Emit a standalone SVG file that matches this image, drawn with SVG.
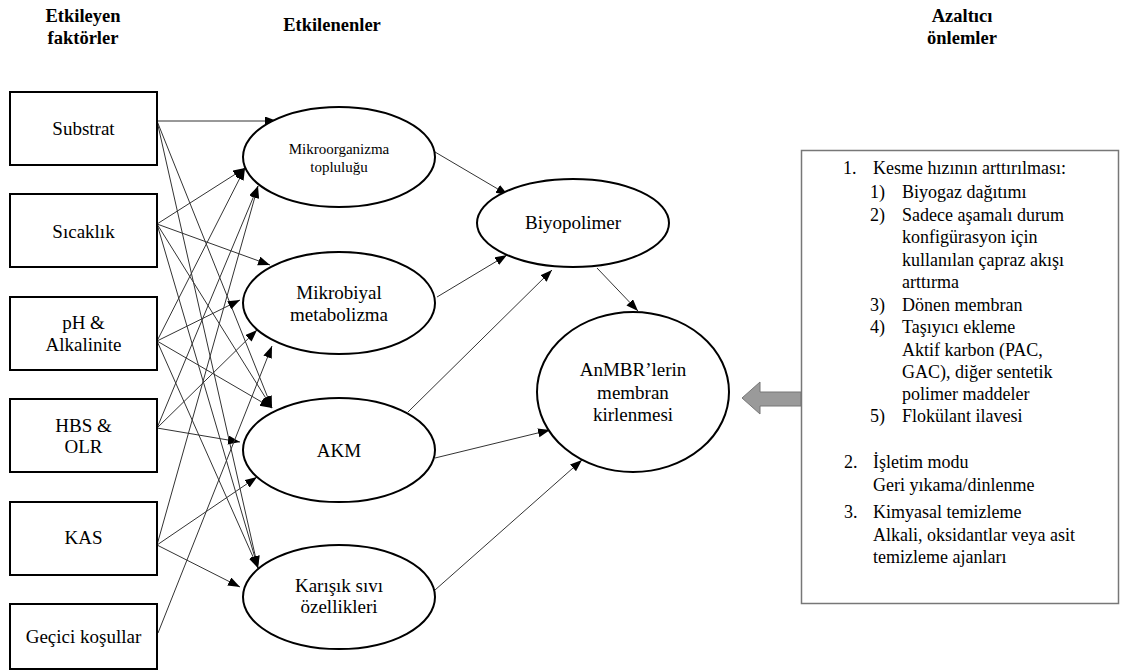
<svg xmlns="http://www.w3.org/2000/svg" width="1121" height="671" viewBox="0 0 1121 671" font-family="Liberation Serif, Times New Roman, serif">
<style>
text{font-family:'Liberation Serif','Times New Roman',Tinos,serif !important}
</style>
<defs>
<marker id="ah" markerUnits="userSpaceOnUse" markerWidth="12" markerHeight="10" refX="12" refY="4.5" orient="auto">
<path d="M0,0 L12,4.5 L0,9 z" fill="#000"/>
</marker>
</defs>
<rect x="0" y="0" width="1121" height="671" fill="#fff"/>

<g id="headers" font-size="18.5" font-weight="bold" text-anchor="middle" fill="#000">
<text x="83" y="22">Etkileyen</text>
<text x="83" y="44">faktörler</text>
<text x="332" y="31">Etkilenenler</text>
<text x="962" y="22">Azaltıcı</text>
<text x="962" y="44">önlemler</text>
</g>

<g id="connectors" stroke="#333" stroke-width="1" fill="none" marker-end="url(#ah)">
<line x1="157" y1="121" x2="277" y2="121"/>
<line x1="157" y1="121" x2="272" y2="408"/>
<line x1="157" y1="121" x2="258" y2="568"/>
<line x1="157" y1="224" x2="245" y2="168"/>
<line x1="157" y1="224" x2="270" y2="265"/>
<line x1="157" y1="224" x2="272" y2="408"/>
<line x1="157" y1="224" x2="258" y2="568"/>
<line x1="157" y1="341" x2="245" y2="168"/>
<line x1="157" y1="341" x2="240" y2="300"/>
<line x1="157" y1="341" x2="272" y2="408"/>
<line x1="157" y1="341" x2="258" y2="568"/>
<line x1="157" y1="428" x2="258" y2="186"/>
<line x1="157" y1="428" x2="257" y2="330"/>
<line x1="157" y1="428" x2="240" y2="442"/>
<line x1="157" y1="545" x2="258" y2="186"/>
<line x1="157" y1="545" x2="257" y2="477"/>
<line x1="157" y1="545" x2="240" y2="587"/>
<line x1="158" y1="633" x2="272" y2="346"/>
<line x1="435" y1="152" x2="508" y2="195"/>
<line x1="437" y1="297" x2="507" y2="255"/>
<line x1="408" y1="412" x2="552" y2="270"/>
<line x1="597" y1="268" x2="638" y2="311"/>
<line x1="435" y1="458" x2="550" y2="430"/>
<line x1="435" y1="590" x2="582" y2="460"/>
</g>

<g id="factors" stroke="#000" stroke-width="2" fill="#fff">
<g id="n-substrat"><rect x="10" y="92" width="147" height="73"/></g>
<g id="n-sicaklik"><rect x="10" y="194" width="147" height="73"/></g>
<g id="n-ph"><rect x="10" y="297" width="147" height="73"/></g>
<g id="n-hbs"><rect x="10" y="399" width="147" height="73"/></g>
<g id="n-kas"><rect x="10" y="502" width="147" height="73"/></g>
<g id="n-gecici"><rect x="10" y="604" width="147" height="65"/></g>
</g>
<g id="factor-labels" font-size="19" text-anchor="middle" fill="#000">
<text x="83.5" y="135">Substrat</text>
<text x="83.5" y="238">Sıcaklık</text>
<text x="83.5" y="329">pH &amp;</text>
<text x="83.5" y="351">Alkalinite</text>
<text x="83.5" y="432">HBS &amp;</text>
<text x="83.5" y="453">OLR</text>
<text x="83.5" y="544">KAS</text>
<text x="83.5" y="643">Geçici koşullar</text>
</g>

<g id="effects" stroke="#000" stroke-width="2" fill="#fff">
<g id="n-mikroorganizma"><ellipse cx="339" cy="157" rx="96" ry="50"/></g>
<g id="n-mikrobiyal"><ellipse cx="339" cy="303" rx="96" ry="51"/></g>
<g id="n-akm"><ellipse cx="339" cy="450" rx="96" ry="52"/></g>
<g id="n-karisik"><ellipse cx="339" cy="597" rx="96" ry="52"/></g>
<g id="n-biyopolimer"><ellipse cx="573" cy="223" rx="96" ry="44"/></g>
<g id="n-anmbr"><ellipse cx="633" cy="392" rx="96" ry="80"/></g>
</g>
<g id="effect-labels" font-size="19" text-anchor="middle" fill="#000">
<text font-size="15" x="339" y="154">Mikroorganizma</text>
<text font-size="15" x="339" y="172">topluluğu</text>
<text x="339" y="299">Mikrobiyal</text>
<text x="339" y="321">metabolizma</text>
<text x="339" y="457">AKM</text>
<text x="339" y="592">Karışık sıvı</text>
<text x="339" y="613">özellikleri</text>
<text x="573" y="229">Biyopolimer</text>
<text x="633" y="376">AnMBR’lerin</text>
<text x="633" y="399">membran</text>
<text x="633" y="421">kirlenmesi</text>
</g>

<g id="n-arrow">
<polygon points="742,398 760,382 760,392 801,392 801,406 760,406 760,414" fill="#9a9a9a" stroke="#777" stroke-width="1"/>
</g>

<g id="n-onlemler" font-size="18" fill="#000">
<rect x="801.5" y="150.5" width="317" height="453" fill="#fff" stroke="#777" stroke-width="1.5"/>
<text x="843" y="174">1.</text>
<text x="873" y="174">Kesme hızının arttırılması:</text>
<text x="870" y="198">1)</text>
<text x="902" y="198">Biyogaz dağıtımı</text>
<text x="870" y="221">2)</text>
<text x="902" y="221">Sadece aşamalı durum</text>
<text x="902" y="243">konfigürasyon için</text>
<text x="902" y="266">kullanılan çapraz akışı</text>
<text x="902" y="288">arttırma</text>
<text x="870" y="311">3)</text>
<text x="902" y="311">Dönen membran</text>
<text x="870" y="333">4)</text>
<text x="902" y="333">Taşıyıcı ekleme</text>
<text x="902" y="356">Aktif karbon (PAC,</text>
<text x="902" y="378">GAC), diğer sentetik</text>
<text x="902" y="400">polimer maddeler</text>
<text x="870" y="422">5)</text>
<text x="902" y="422">Flokülant ilavesi</text>
<text x="844" y="468">2.</text>
<text x="873" y="468">İşletim modu</text>
<text x="873" y="491">Geri yıkama/dinlenme</text>
<text x="844" y="518">3.</text>
<text x="873" y="518">Kimyasal temizleme</text>
<text x="873" y="541">Alkali, oksidantlar veya asit</text>
<text x="873" y="563">temizleme ajanları</text>
</g>
</svg>
